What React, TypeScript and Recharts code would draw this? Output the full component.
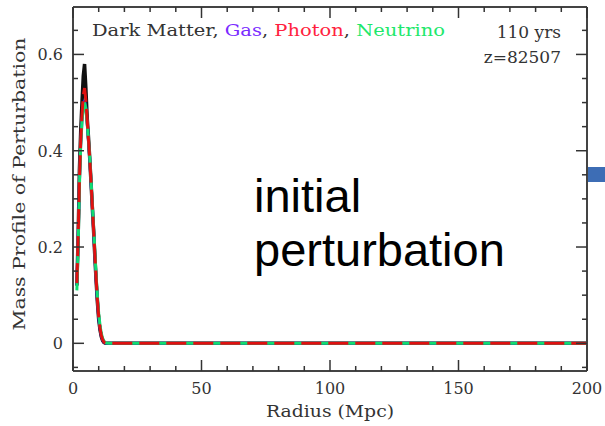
import { LineChart, Line, XAxis, YAxis } from 'recharts'

// radius grid in Mpc, and mass profiles for each component at that radius
const radius = [
  1.5, 2, 2.5, 3, 3.5, 4, 4.5, 5, 5.5, 6, 6.5, 7, 7.5, 8, 8.5, 9, 9.5, 10, 10.5, 11, 11.5, 12,
  12.5, 13, 14, 15, 20, 50, 100, 150, 200,
]
const darkMatter = [
  0.12, 0.22, 0.36, 0.44, 0.5, 0.555, 0.58, 0.53, 0.47, 0.43, 0.385, 0.335, 0.285, 0.235, 0.18,
  0.13, 0.085, 0.05, 0.028, 0.014, 0.006, 0.002, 0.0005, 0, 0, 0, 0, 0, 0, 0, 0,
]
const gas = [
  0.12, 0.215, 0.335, 0.415, 0.465, 0.495, 0.505, 0.49, 0.46, 0.422, 0.384, 0.336, 0.287, 0.237,
  0.184, 0.134, 0.089, 0.054, 0.031, 0.016, 0.007, 0.003, 0.001, 0, 0, 0, 0, 0, 0, 0, 0,
]
const photon = [
  0.125, 0.22, 0.34, 0.42, 0.475, 0.515, 0.53, 0.505, 0.465, 0.425, 0.385, 0.337, 0.288, 0.238,
  0.185, 0.135, 0.09, 0.055, 0.032, 0.017, 0.008, 0.003, 0.001, 0, 0, 0, 0, 0, 0, 0, 0,
]
const neutrino = [
  0.11, 0.2, 0.325, 0.41, 0.46, 0.49, 0.5, 0.487, 0.458, 0.425, 0.388, 0.34, 0.292, 0.243, 0.192,
  0.142, 0.097, 0.062, 0.038, 0.021, 0.011, 0.005, 0.002, 0.0005, 0, 0, 0, 0, 0, 0, 0,
]

const xTicks = [
  0, 10, 20, 30, 40, 50, 60, 70, 80, 90, 100, 110, 120, 130, 140, 150, 160, 170, 180, 190, 200,
]
const yTicks = [
  -0.05, 0, 0.05, 0.1, 0.15, 0.2, 0.25, 0.3, 0.35, 0.4, 0.45, 0.5, 0.55, 0.6, 0.65,
]

const data = radius.map((r, i) => ({
  r,
  dm: darkMatter[i],
  gas: gas[i],
  photon: photon[i],
  nu: neutrino[i],
}))

const FONT = '"DejaVu Serif", serif'
const INK = '#333'
const FRAME = { stroke: '#444', strokeWidth: 2 }

const isMajorX = (v: number) => v % 50 === 0
const isMajorY = (v: number) => Math.round(v * 100) % 20 === 0

// inward tick marks, labels only on the bottom / left majors
function makeTick(orient: 'bottom' | 'top' | 'left' | 'right') {
  return (props: any) => {
    const { x, y, payload } = props
    const v = payload.value as number
    const major = orient === 'bottom' || orient === 'top' ? isMajorX(v) : isMajorY(v)
    const len = major ? 11 : 5
    if (orient === 'bottom') {
      return (
        <g>
          <line x1={x} x2={x} y1={y} y2={y - len} stroke={INK} strokeWidth={1.5} />
          {major && (
            <text x={x} y={y + 23} textAnchor="middle" fontFamily={FONT} fontSize={16} fill={INK}>
              {v}
            </text>
          )}
        </g>
      )
    }
    if (orient === 'top') {
      return <line x1={x} x2={x} y1={y} y2={y + len} stroke={INK} strokeWidth={1.5} />
    }
    if (orient === 'left') {
      return (
        <g>
          <line x1={x} x2={x + len} y1={y} y2={y} stroke={INK} strokeWidth={1.5} />
          {major && (
            <text x={x - 10} y={y + 6} textAnchor="end" fontFamily={FONT} fontSize={16} fill={INK}>
              {Math.abs(v) < 1e-9 ? '0' : v.toFixed(1)}
            </text>
          )}
        </g>
      )
    }
    return <line x1={x} x2={x - len} y1={y} y2={y} stroke={INK} strokeWidth={1.5} />
  }
}

export default function App() {
  return (
    <div style={{ position: 'absolute', left: 0, top: 0, width: 605, height: 426, background: '#fff' }}>
      <LineChart width={605} height={426} data={data} margin={{ top: 0, right: 0, bottom: 0, left: 0 }}>
        <XAxis
          xAxisId="b"
          dataKey="r"
          type="number"
          domain={[0, 200]}
          ticks={xTicks}
          interval={0}
          height={55}
          tickSize={0}
          tickMargin={0}
          axisLine={FRAME}
          tick={makeTick('bottom')}
          allowDataOverflow
        />
        <XAxis
          xAxisId="t"
          orientation="top"
          dataKey="r"
          type="number"
          domain={[0, 200]}
          ticks={xTicks}
          interval={0}
          height={7}
          tickSize={0}
          tickMargin={0}
          axisLine={FRAME}
          tick={makeTick('top')}
          allowDataOverflow
        />
        <YAxis
          yAxisId="l"
          type="number"
          domain={[-0.0575, 0.6985]}
          ticks={yTicks}
          interval={0}
          width={73}
          tickSize={0}
          tickMargin={0}
          axisLine={FRAME}
          tick={makeTick('left')}
          allowDataOverflow
        />
        <YAxis
          yAxisId="r"
          orientation="right"
          type="number"
          domain={[-0.0575, 0.6985]}
          ticks={yTicks}
          interval={0}
          width={18}
          tickSize={0}
          tickMargin={0}
          axisLine={FRAME}
          tick={makeTick('right')}
          allowDataOverflow
        />
        <Line xAxisId="b" yAxisId="l" dataKey="dm" type="linear" stroke="#111" strokeWidth={3.5} dot={false} isAnimationActive={false} />
        <Line xAxisId="b" yAxisId="l" dataKey="gas" type="linear" stroke="#3a1fd0" strokeWidth={3} dot={false} isAnimationActive={false} />
        <Line xAxisId="b" yAxisId="l" dataKey="nu" type="linear" stroke="#10dd70" strokeWidth={3} dot={false} isAnimationActive={false} />
        <Line xAxisId="b" yAxisId="l" dataKey="photon" type="linear" stroke="#e01010" strokeWidth={3} strokeDasharray="20 7" dot={false} isAnimationActive={false} />
      </LineChart>
      <svg
        width={605}
        height={426}
        style={{ position: 'absolute', left: 0, top: 0, pointerEvents: 'none' }}
      >
        <text x={92} y={36} fontFamily={FONT} fontSize={17} fill={INK} textLength={353} lengthAdjust="spacingAndGlyphs">
          Dark Matter, <tspan fill="#7a2cff">Gas</tspan>, <tspan fill="#ff1f40">Photon</tspan>,{' '}
          <tspan fill="#1ee86c">Neutrino</tspan>
        </text>
        <text x={561} y={38} textAnchor="end" fontFamily={FONT} fontSize={17} fill={INK}>
          110 yrs
        </text>
        <text x={561} y={63} textAnchor="end" fontFamily={FONT} fontSize={17} fill={INK}>
          z=82507
        </text>
        <text
          x={266}
          y={417}
          fontFamily={FONT}
          fontSize={17}
          fill={INK}
          textLength={128}
          lengthAdjust="spacingAndGlyphs"
        >
          Radius (Mpc)
        </text>
        <text
          transform="translate(25 184) rotate(-90)"
          textAnchor="middle"
          fontFamily={FONT}
          fontSize={17}
          fill={INK}
          textLength={293}
          lengthAdjust="spacingAndGlyphs"
        >
          Mass Profile of Perturbation
        </text>
        <text fontFamily='"Liberation Sans", Arial, sans-serif' fontSize={47} fill="#000">
          <tspan x={254} y={212}>initial</tspan>
          <tspan x={254} y={266}>perturbation</tspan>
        </text>
        <rect x={588} y={167} width={17} height={15} fill="#3d6db5" />
      </svg>
    </div>
  )
}
